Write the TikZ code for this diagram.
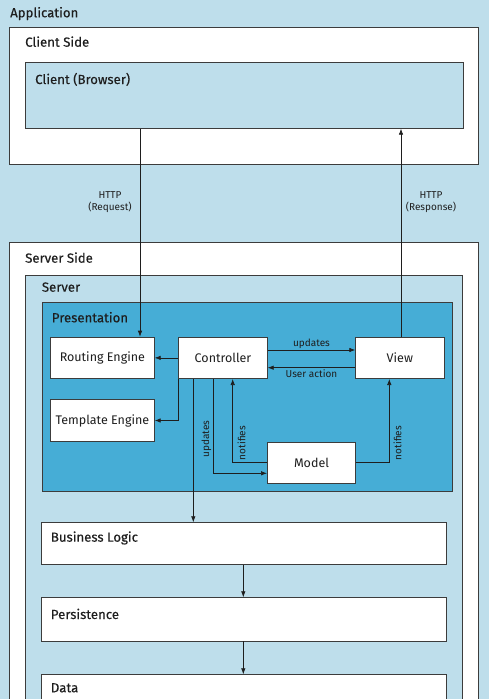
\documentclass[tikz,border=0pt]{standalone}
\usepackage{fontspec}
\setmainfont{Fira Sans}
\newfontfamily\titlefont[FakeBold=0.3]{Fira Sans}
\usetikzlibrary{arrows.meta,calc}
\definecolor{bgblue}{RGB}{190,222,235}
\definecolor{presblue}{RGB}{70,173,214}
\definecolor{edge}{RGB}{60,60,60}
\definecolor{ink}{RGB}{30,30,30}
\tikzset{
  box/.style={draw=edge, line width=0.7pt, rectangle, inner sep=0pt, anchor=north west},
  whitebox/.style={box, fill=white},
  lbluebox/.style={box, fill=bgblue},
  dbluebox/.style={box, fill=presblue},
  title/.style={anchor=base west, inner sep=0pt, font=\titlefont\fontsize{13.2}{15}\selectfont, text=ink},
  nodetext/.style={font=\fontsize{12.5}{14}\selectfont, text=ink},
  small/.style={font=\fontsize{10}{12.5}\selectfont, text=ink, inner sep=1.5pt},
  arr/.style={draw=ink, line width=0.7pt, -{Latex[length=6pt,width=4.5pt]}},
}
\begin{document}
\begin{tikzpicture}[x=1pt,y=-1pt]
\useasboundingbox (0,0) rectangle (489,699);
\path[clip] (0,0) rectangle (489,699);
\fill[bgblue] (0,0) rectangle (489,699);

\node[title] (tApp) at (10,17.3) {Application};

% Client side
\node[whitebox, minimum width=469pt, minimum height=137pt] (clientside) at (9,27) {};
\node[title] (tCS) at (25,46.7) {Client Side};
\node[lbluebox, minimum width=438pt, minimum height=66pt] (client) at (25,62) {};
\node[title] (tCl) at (35,84) {Client (Browser)};

% Server side
\node[whitebox, minimum width=469pt, minimum height=480pt] (serverside) at (9,242) {};
\node[title] (tSS) at (25,262.7) {Server Side};
\node[lbluebox, minimum width=437pt, minimum height=460pt] (server) at (25,275) {};
\node[title] (tSv) at (41.7,291.7) {Server};

% Presentation
\node[dbluebox, minimum width=410.3pt, minimum height=189.3pt] (pres) at (41.7,301.7) {};
\node[title] (tPr) at (51.7,322.3) {Presentation};

\node[whitebox, minimum width=104pt, minimum height=41.6pt] (routing) at (50,336.7) {};
\node[nodetext] (tRo) at (routing.center) {Routing Engine};
\node[whitebox, minimum width=104pt, minimum height=41.7pt] (template) at (50,399.3) {};
\node[nodetext] (tTe) at (template.center) {Template Engine};
\node[whitebox, minimum width=88.7pt, minimum height=41.6pt] (controller) at (178.3,336.7) {};
\node[nodetext] (tCo) at (controller.center) {Controller};
\node[whitebox, minimum width=88.4pt, minimum height=41.6pt] (view) at (355.3,336.7) {};
\node[nodetext] (tVi) at (view.center) {View};
\node[whitebox, minimum width=88.3pt, minimum height=41.6pt] (model) at (267,441.7) {};
\node[nodetext] (tMo) at (model.center) {Model};

% Lower layers
\node[whitebox, minimum width=404.7pt, minimum height=42pt] (business) at (41,522.3) {};
\node[title] (tBL) at (50.7,541.7) {Business Logic};
\node[whitebox, minimum width=404.7pt, minimum height=43.4pt] (persistence) at (41,597.3) {};
\node[title] (tPe) at (50.7,619) {Persistence};
\node[whitebox, minimum width=404.7pt, minimum height=60pt] (data) at (41,674.3) {};
\node[title] (tDa) at (50.7,692.3) {Data};

% helper coordinates
\coordinate (rq) at (140,0);
\coordinate (rs) at (401,0);
\coordinate (u1) at (0,350);
\coordinate (ua) at (0,367.7);
\coordinate (c1) at (193.3,0);
\coordinate (c2) at (213.3,0);
\coordinate (c3) at (232.7,0);
\coordinate (c4) at (389.3,0);
\coordinate (c5) at (243.3,0);
\coordinate (m1) at (0,473.3);
\coordinate (m2) at (0,462.7);

% HTTP
\draw[arr] (rq |- client.south) -- (rq |- routing.north);
\draw[arr] (rs |- view.north) -- (rs |- client.south);
\node[small, align=center] (lReq) at (110,202) {HTTP\\(Request)};
\node[small, align=center] (lRes) at (431,202) {HTTP\\(Response)};

% MVC
\draw[arr] (controller.west) -- (routing.east);
\draw[arr] (controller.south west) |- (template.east);
\draw[arr] (controller.east |- u1) -- (view.west |- u1) node[small, midway, above] (lUp) {updates};
\draw[arr] (view.west |- ua) -- (controller.east |- ua) node[small, midway, below] (lUA) {User action};
\draw[arr] (controller.south -| c1) -- (business.north -| c1);
\draw[arr] (controller.south -| c2) |- (model.west |- m1);
\node[small, rotate=90] (lUp2) at (206.5,439) {updates};
\draw[arr] (model.west |- m2) -| (controller.south -| c3);
\node[small, rotate=90] (lNo1) at (241.5,443) {notifies};
\draw[arr] (model.east |- m2) -| (view.south -| c4);
\node[small, rotate=90] (lNo2) at (397.5,443) {notifies};

\draw[arr] (business.south -| c5) -- (persistence.north -| c5);
\draw[arr] (persistence.south -| c5) -- (data.north -| c5);
\end{tikzpicture}
\end{document}
